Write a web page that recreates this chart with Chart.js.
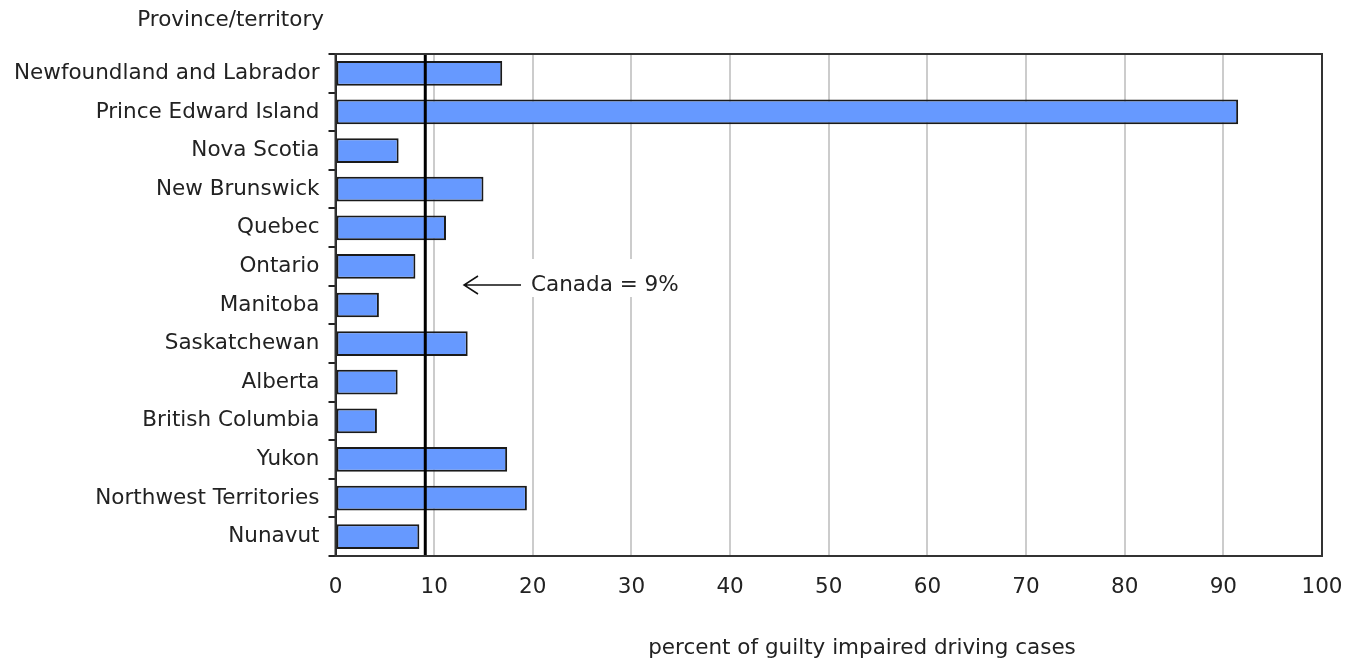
<!DOCTYPE html>
<html>
<head>
<meta charset="utf-8">
<script src="https://cdn.jsdelivr.net/npm/chart.js@4"></script>
<style>
html,body{margin:0;padding:0;background:#fff;}
#wrap{width:1353px;height:660px;}
</style>
</head>
<body>
<div id="wrap"><canvas id="c" width="1353" height="660"></canvas></div>
<script>
const categories = ["Newfoundland and Labrador","Prince Edward Island","Nova Scotia","New Brunswick","Quebec","Ontario","Manitoba","Saskatchewan","Alberta","British Columbia","Yukon","Northwest Territories","Nunavut"];
const values = [16.9, 91.5, 6.4, 15.0, 11.2, 8.1, 4.4, 13.4, 6.3, 4.2, 17.4, 19.4, 8.5];
const canadaValue = 9.1;
const canadaLabel = "Canada = 9%";
const xTicks = [0,10,20,30,40,50,60,70,80,90,100];
const yAxisTitle = "Province/territory";
const xAxisTitle = "percent of guilty impaired driving cases";

const FONT = "DejaVu Sans, Verdana, sans-serif";
const FS = 21.5;

const overlay = {
  id: 'overlay',
  afterDatasetsDraw(chart) {
    const ctx = chart.ctx;
    const x = chart.scales.x;
    const a = chart.chartArea;
    ctx.save();
    ctx.fillStyle = '#fff';
    ctx.fillRect(452, 259, 245, 38);
    const cx = x.getPixelForValue(canadaValue);
    ctx.strokeStyle = '#000';
    ctx.lineWidth = 3;
    ctx.beginPath(); ctx.moveTo(cx, a.top); ctx.lineTo(cx, a.bottom); ctx.stroke();
    const ay = 285;
    ctx.lineWidth = 1.5;
    ctx.strokeStyle = '#111';
    ctx.beginPath();
    ctx.moveTo(521, ay); ctx.lineTo(464, ay);
    ctx.moveTo(478, ay - 9); ctx.lineTo(464, ay); ctx.lineTo(478, ay + 9);
    ctx.stroke();
    ctx.fillStyle = '#222';
    ctx.font = FS + 'px ' + FONT;
    ctx.textBaseline = 'middle';
    ctx.textAlign = 'left';
    ctx.fillText(canadaLabel, 531, ay);
    ctx.strokeStyle = '#333';
    ctx.lineWidth = 2;
    ctx.strokeRect(a.left, a.top, a.right - a.left, a.bottom - a.top);
    ctx.restore();
  },
  afterDraw(chart) {
    const ctx = chart.ctx;
    ctx.save();
    ctx.fillStyle = '#222';
    ctx.font = FS + 'px ' + FONT;
    ctx.textBaseline = 'middle';
    ctx.textAlign = 'right';
    ctx.fillText(yAxisTitle, 324, 20);
    ctx.textAlign = 'center';
    ctx.fillText(xAxisTitle, 862, 648);
    ctx.restore();
  }
};

new Chart(document.getElementById('c'), {
  type: 'bar',
  data: {
    labels: categories,
    datasets: [{
      data: values,
      backgroundColor: '#6699FF',
      borderColor: '#1a1a1a',
      borderWidth: 2,
      borderSkipped: false,
      barPercentage: 0.64,
      categoryPercentage: 1.0
    }]
  },
  options: {
    indexAxis: 'y',
    responsive: false,
    animation: false,
    layout: { padding: { top: 54, right: 31, left: 0, bottom: 0 } },
    plugins: { legend: { display: false }, tooltip: { enabled: false }, title: { display: false } },
    scales: {
      x: {
        min: 0, max: 100,
        afterBuildTicks(scale) { scale.ticks = xTicks.map(v => ({ value: v })); },
        afterFit(scale) { scale.height = 660 - 556; scale.paddingLeft = 0; scale.paddingRight = 0; },
        grid: { color: '#cccccc', lineWidth: 2, drawTicks: false },
        border: { display: true, color: '#222', width: 2 },
        ticks: { color: '#222', font: { family: FONT, size: FS }, padding: 19, maxRotation: 0 }
      },
      y: {
        afterFit(scale) { scale.width = 335.5; scale.paddingTop = 0; scale.paddingBottom = 0; },
        grid: { drawOnChartArea: false, drawTicks: true, tickLength: 7, tickColor: '#222', lineWidth: 2, offset: true },
        border: { display: true, color: '#222', width: 2 },
        ticks: { color: '#222', font: { family: FONT, size: FS }, padding: 9 }
      }
    }
  },
  plugins: [overlay]
});
</script>
</body>
</html>
